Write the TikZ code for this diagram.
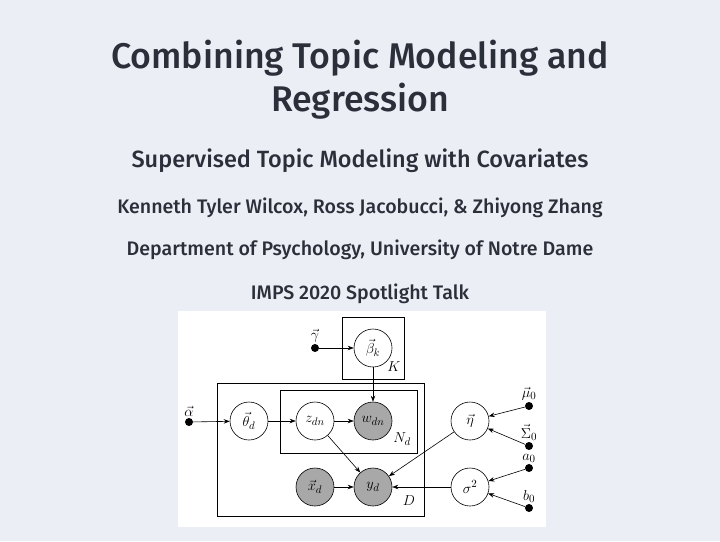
\documentclass[tikz,border=0pt]{standalone}
\usepackage{fontspec}
\setmainfont{Fira Sans Medium}
\usetikzlibrary{arrows.meta}
\definecolor{bgc}{HTML}{ECEEF5}
\definecolor{txt}{HTML}{2B2F3A}
\definecolor{obs}{HTML}{A8A8A8}
\tikzset{
  var/.style={circle,draw,semithick,minimum size=38pt,inner sep=0pt,fill=white,font=\fontsize{15}{17}\selectfont},
  obsv/.style={var,fill=obs},
  hyper/.style={circle,fill=black,minimum size=8pt,inner sep=0pt},
  lab/.style={font=\fontsize{15}{17}\selectfont},
  plate/.style={draw,semithick},
  edge/.style={-{Stealth[length=6pt]},semithick},
  ttl/.style={text=txt,font=\fontsize{35.7}{40}\selectfont},
  sub/.style={text=txt,font=\fontsize{23.5}{27}\selectfont},
  inf/.style={text=txt,font=\fontsize{19.6}{23}\selectfont},
}
\begin{document}
\begin{tikzpicture}[x=1pt,y=-1pt]
\fill[bgc] (0,0) rectangle (720,541);
\useasboundingbox (0,0) rectangle (720,541);
\node[ttl] (t1) at (360,58) {Combining Topic Modeling and};
\node[ttl] (t2) at (360,101) {Regression};
\node[sub] (st) at (360,161) {Supervised Topic Modeling with Covariates};
\node[inf] (au) at (360,208) {Kenneth Tyler Wilcox, Ross Jacobucci, \& Zhiyong Zhang};
\node[inf] (dp) at (360,250) {Department of Psychology, University of Notre Dame};
\node[inf] (im) at (360,294) {IMPS 2020 Spotlight Talk};
\fill[white] (178,311) rectangle (546,527);
% plates
\draw[plate] (342,317) rectangle (404,379);
\draw[plate] (217,383) rectangle (424,516);
\draw[plate] (280,390) rectangle (417,453);
\node[lab] (K) at (394,367) {$K$};
\node[lab] (Nd) at (402,439) {$N_d$};
\node[lab] (D) at (409,501) {$D$};
% nodes
\node[var] (beta) at (373,348) {$\vec\beta_k$};
\node[var] (theta) at (249,421) {$\vec\theta_d$};
\node[var] (z) at (315,421) {$z_{dn}$};
\node[obsv] (w) at (373,421) {$w_{dn}$};
\node[var] (eta) at (470,421) {$\vec\eta$};
\node[obsv] (x) at (315,487) {$\vec x_d$};
\node[obsv] (y) at (373,487) {$y_d$};
\node[var] (s2) at (470,487) {$\sigma^2$};
\node[hyper,label={[lab,inner sep=1pt]above:$\vec\alpha$}] (alpha) at (189,422) {};
\node[hyper,label={[lab,inner sep=1pt]above:$\vec\gamma$}] (gamma) at (315,348) {};
\node[hyper,label={[lab,inner sep=1pt]above:$\vec\mu_0$}] (mu) at (529,406) {};
\node[hyper,label={[lab,inner sep=1pt]above:$\vec\Sigma_0$}] (Sig) at (529,446) {};
\node[hyper,label={[lab,inner sep=1pt]above:$a_0$}] (a0) at (529,468) {};
\node[hyper,label={[lab,inner sep=1pt]above:$b_0$}] (b0) at (529,508) {};
% edges
\draw[edge] (gamma) -- (beta);
\draw[edge] (beta) -- (w);
\draw[edge] (alpha) -- (theta);
\draw[edge] (theta) -- (z);
\draw[edge] (z) -- (w);
\draw[edge] (z) -- (y);
\draw[edge] (x) -- (y);
\draw[edge] (eta) -- (y);
\draw[edge] (s2) -- (y);
\draw[edge] (mu) -- (eta);
\draw[edge] (Sig) -- (eta);
\draw[edge] (a0) -- (s2);
\draw[edge] (b0) -- (s2);
\end{tikzpicture}
\end{document}
